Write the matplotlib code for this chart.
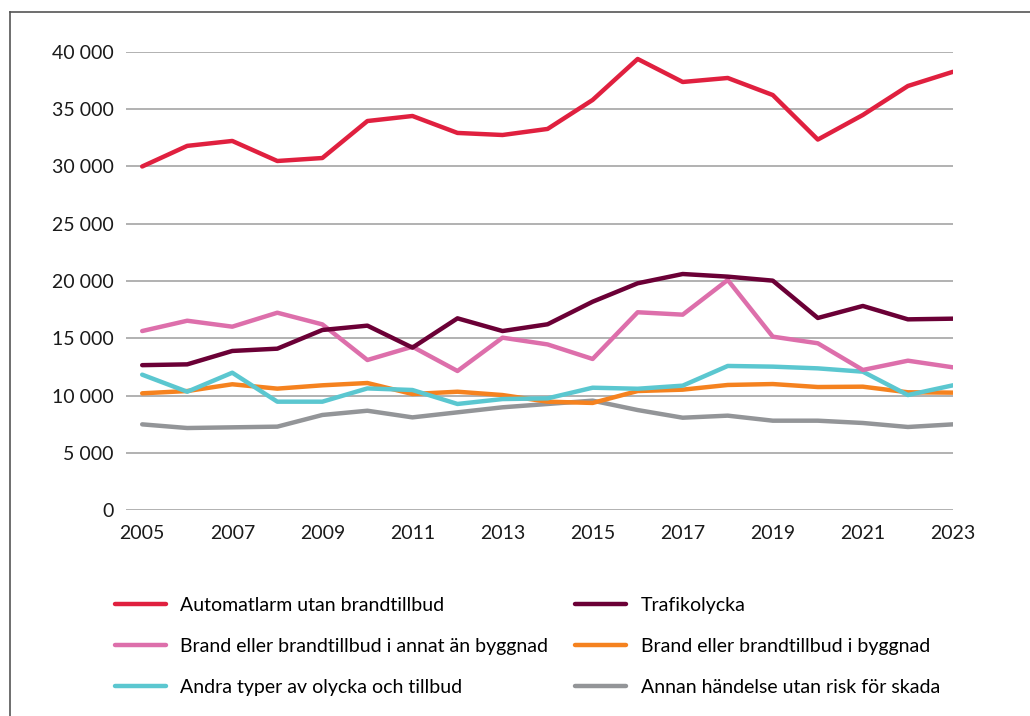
import matplotlib.pyplot as plt
from matplotlib.lines import Line2D
from matplotlib.ticker import FuncFormatter

plt.rcParams['font.family'] = ['Lato', 'DejaVu Sans']

years = list(range(2005, 2024))

automatlarm = [30000, 31800, 32230, 30480, 30740, 33970, 34410, 32930, 32750, 33280,
               35810, 39390, 37380, 37730, 36240, 32350, 34500, 37030, 38270]
trafikolycka = [12650, 12720, 13890, 14090, 15720, 16100, 14180, 16740, 15630, 16220,
                18190, 19800, 20610, 20380, 20030, 16770, 17820, 16650, 16710]
brand_annat = [15630, 16530, 16010, 17230, 16210, 13100, 14260, 12140, 15050, 14460,
               13190, 17270, 17060, 20090, 15140, 14560, 12230, 13040, 12460]
brand_byggnad = [10190, 10390, 10980, 10600, 10890, 11090, 10130, 10330, 10040, 9460,
                 9350, 10390, 10510, 10920, 11000, 10740, 10770, 10280, 10250]
andra_typer = [11820, 10330, 11990, 9460, 9460, 10620, 10480, 9260, 9690, 9750,
               10680, 10590, 10860, 12580, 12520, 12370, 12080, 10040, 10890]
annan_handelse = [7480, 7160, 7220, 7280, 8300, 8670, 8090, 8530, 8970, 9260,
                  9550, 8730, 8060, 8240, 7800, 7800, 7600, 7250, 7480]

labels = ['Automatlarm utan brandtillbud', 'Trafikolycka',
          'Brand eller brandtillbud i annat än byggnad', 'Brand eller brandtillbud i byggnad',
          'Andra typer av olycka och tillbud', 'Annan händelse utan risk för skada']
series = [automatlarm, trafikolycka, brand_annat, brand_byggnad, andra_typer, annan_handelse]
colors = ['#e0203f', '#6b0036', '#dd6fab', '#f5821f', '#5bc7d0', '#939598']
# drawing order: back to front
z = [6, 5, 4, 2, 3, 1]

fig = plt.figure(figsize=(10.3, 7.16), dpi=100)
ax = fig.add_axes([0.1223, 0.2877, 0.8029, 0.6397])

lines = {}
for lab, vals, c, zz in zip(labels, series, colors, z):
    lines[lab], = ax.plot(years, vals, color=c, lw=3.2, zorder=zz,
                          solid_capstyle='round', solid_joinstyle='round')

ax.set_xlim(2004.64, 2023)
ax.set_ylim(0, 40000)
ax.set_xticks(range(2005, 2024, 2))
ax.set_yticks(range(0, 40001, 5000))
ax.yaxis.set_major_formatter(FuncFormatter(lambda v, p: f'{int(v):,}'.replace(',', ' ')))
ax.grid(axis='y', color='#ababab', lw=1.3, zorder=0)
ax.tick_params(length=0, labelsize=14, colors='#1a1a1a')
ax.tick_params(axis='x', pad=11)
ax.tick_params(axis='y', pad=9)
for s in ax.spines.values():
    s.set_visible(False)

# legend: two columns, row order as in reference
order = [0, 2, 4, 1, 3, 5]
fig.legend([lines[labels[i]] for i in order], [labels[i] for i in order],
           ncol=2, loc='upper left', bbox_to_anchor=(0.1117, 0.1658),
           frameon=False, fontsize=14, handlelength=2.6, handletextpad=0.75,
           columnspacing=1.4, labelspacing=1.22, borderpad=0, borderaxespad=0)

# outer frame (partly outside the picture)
fig.add_artist(Line2D([10 / 1030, 10 / 1030], [0, 1 - 12 / 716], color='#555555', lw=1.2))
fig.add_artist(Line2D([10 / 1030, 1], [1 - 12 / 716, 1 - 12 / 716], color='#555555', lw=1.2))

fig.savefig('out.png', dpi=100)
